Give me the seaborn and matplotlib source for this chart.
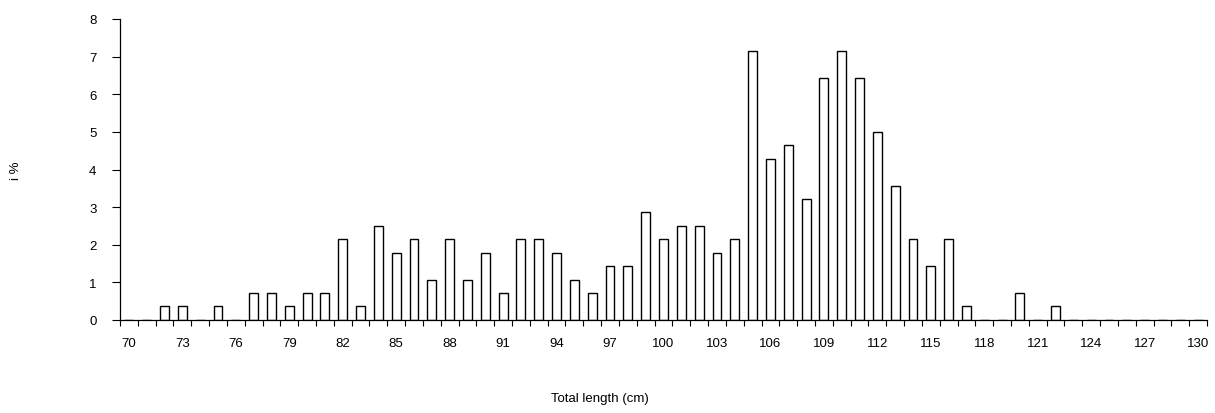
import numpy as np
import pandas as pd
import matplotlib
matplotlib.use('Agg')
import matplotlib.pyplot as plt
import seaborn as sns

# Length classes (cm) and share of fish in each class (%)
lengths = list(range(70, 131))
percent = [
    0.00, 0.00, 0.36, 0.36, 0.00, 0.36, 0.00, 0.71, 0.71, 0.36,   # 70-79
    0.71, 0.71, 2.14, 0.36, 2.50, 1.79, 2.14, 1.07, 2.14, 1.07,   # 80-89
    1.79, 0.71, 2.14, 2.14, 1.79, 1.07, 0.71, 1.43, 1.43, 2.86,   # 90-99
    2.14, 2.50, 2.50, 1.79, 2.14, 7.14, 4.29, 4.64, 3.21, 6.43,   # 100-109
    7.14, 6.43, 5.00, 3.57, 2.14, 1.43, 2.14, 0.36, 0.00, 0.00,   # 110-119
    0.71, 0.00, 0.36, 0.00, 0.00, 0.00, 0.00, 0.00, 0.00, 0.00,   # 120-129
    0.00,                                                         # 130
]
y_ticks = list(range(0, 9))
label_every = 3

df = pd.DataFrame({'length': lengths, 'percent': percent})

sns.set_style('white')
plt.rcParams['font.family'] = ['Liberation Sans', 'DejaVu Sans']
plt.rcParams['text.color'] = 'black'
plt.rcParams['axes.labelcolor'] = 'black'
plt.rcParams['xtick.color'] = 'black'
plt.rcParams['ytick.color'] = 'black'

fig = plt.figure(figsize=(12.15, 4.14), dpi=100)
ax = fig.add_axes([120 / 1215, 93 / 414, 1087 / 1215, 301 / 414])

sns.barplot(data=df, x='length', y='percent', order=lengths, width=0.5,
            color='white', edgecolor='black', linewidth=1.0, ax=ax)

ax.set_xlim(-0.5, len(lengths) - 0.5)
ax.set_ylim(0, 8)

# labels every 3 cm at class centres, tick marks at class boundaries
major = np.arange(0, len(lengths), label_every)
ax.set_xticks(major)
ax.set_xticklabels([str(lengths[i]) for i in major])
ax.set_xticks(np.arange(-0.5, len(lengths), 1), minor=True)
ax.tick_params(axis='x', which='major', length=0, pad=12, labelsize=9.5)
ax.tick_params(axis='x', which='minor', length=4, width=0.8,
               direction='out', bottom=True)

ax.set_yticks(y_ticks)
ax.tick_params(axis='y', which='major', length=6, width=0.8,
               direction='out', left=True, pad=11, labelsize=9.5)

for side in ['top', 'right']:
    ax.spines[side].set_visible(False)
for side in ['left', 'bottom']:
    ax.spines[side].set_color('black')
    ax.spines[side].set_linewidth(0.9)

ax.set_xlabel('Total length (cm)', fontsize=9.5)
ax.xaxis.set_label_coords(0.4416, -0.24)
ax.set_ylabel('i %', fontsize=9.5, labelpad=48)

plt.savefig('out.png', dpi=100)
plt.close()
